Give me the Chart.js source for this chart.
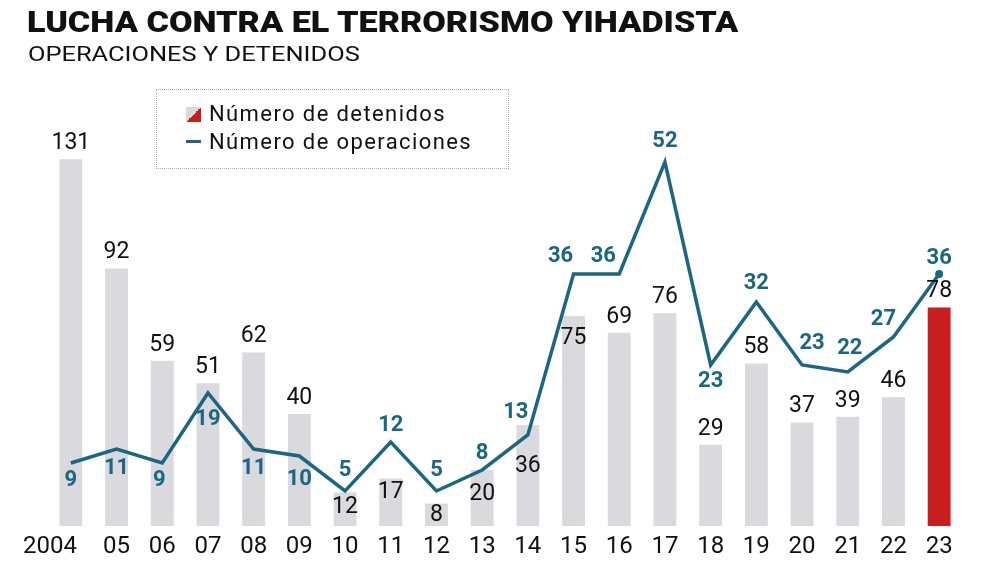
<!DOCTYPE html>
<html>
<head>
<meta charset="utf-8">
<script src="https://cdn.jsdelivr.net/npm/chart.js@4.4.1/dist/chart.umd.min.js"></script>
<style>
  html, body { margin: 0; padding: 0; background: #fff; }
  #wrap { position: relative; width: 1000px; height: 567px; overflow: hidden; font-family: Roboto, "Liberation Sans", sans-serif; }
  #titulo { position: absolute; left: 27px; top: 4px; font-size: 30px; font-weight: 900; color: #111; white-space: nowrap; transform: scaleX(1.14); transform-origin: left top; }
  #subtitulo { position: absolute; left: 28px; top: 42px; font-size: 21px; font-weight: 400; color: #111; white-space: nowrap; transform: scaleX(1.21); transform-origin: left top; }
  #leyenda { position: absolute; left: 156px; top: 89px; width: 351px; height: 78px; border: 1px dotted #aaa; font-size: 22px; color: #111; }
  .item { position: absolute; left: 29px; white-space: nowrap; letter-spacing: 1.4px; }
  .ico { display: inline-block; width: 15px; height: 15px; margin-right: 8px; vertical-align: -1px; }
  .ico.barra { background: linear-gradient(to bottom right, #d9d9de 50%, #c81e1e 50%); }
  .ico.linea { height: 3px; background: #1b6682; vertical-align: 6px; }
  canvas { position: absolute; left: 0; top: 0; }
</style>
</head>
<body>
<div id="wrap">
  <canvas id="grafico" width="1000" height="567"></canvas>
  <div id="titulo">LUCHA CONTRA EL TERRORISMO YIHADISTA</div>
  <div id="subtitulo">OPERACIONES Y DETENIDOS</div>
  <div id="leyenda">
    <div class="item" style="top:11px;"><span class="ico barra"></span>Número de detenidos</div>
    <div class="item" style="top:39px;"><span class="ico linea"></span>Número de operaciones</div>
  </div>
</div>
<script>
// datos
var anios = ['2004', '05', '06', '07', '08', '09', '10', '11', '12', '13', '14', '15', '16', '17', '18', '19', '20', '21', '22', '23'];
var detenidos = [131, 92, 59, 51, 62, 40, 12, 17, 8, 20, 36, 75, 69, 76, 29, 58, 37, 39, 46, 78];
var operaciones = [9, 11, 9, 19, 11, 10, 5, 12, 5, 8, 13, 36, 36, 52, 23, 32, 23, 22, 27, 36];

var gris = '#d9d9de';
var rojo = '#c81e1e';
var azul = '#1b6682';

// desplazamiento de las etiquetas (para que no choquen con la linea)
var dyBarra = [-16, -16, -16, -16, -16, -16, 15, 14, 12, 24, 41, 22, -16, -16, -16, -16, -16, -16, -16, -16];
var dxLinea = [0, 0, -3, 0, 0, 0, 0, 0, 0, 0, -12, -13, -16, 0, 0, 0, 10, 2, -10, 0];
var dyLinea = [17, 19, 17, 26, 19, 23, -21, -17, -21, -17, -23, -18, -18, -21, 16, -19, -22, -24, -18, -16];

var coloresBarra = detenidos.map(function (v, i) {
    return i == detenidos.length - 1 ? rojo : gris;
});
var radioPuntos = operaciones.map(function (v, i) {
    return i == operaciones.length - 1 ? 4 : 0;
});

var etiquetas = {
    id: 'etiquetas',
    afterDatasetsDraw: function (chart) {
        var ctx = chart.ctx;
        ctx.save();
        ctx.textAlign = 'center';
        ctx.textBaseline = 'middle';
        // barras
        var metaB = chart.getDatasetMeta(1);
        ctx.font = '400 23px Roboto, "Liberation Sans", sans-serif';
        ctx.fillStyle = '#111';
        metaB.data.forEach(function (el, i) {
            ctx.fillText(detenidos[i], el.x, el.y + dyBarra[i]);
        });
        // linea
        var metaL = chart.getDatasetMeta(0);
        ctx.font = '700 22px Roboto, "Liberation Sans", sans-serif';
        ctx.fillStyle = azul;
        metaL.data.forEach(function (el, i) {
            ctx.fillText(operaciones[i], el.x + dxLinea[i], el.y + dyLinea[i]);
        });
        ctx.restore();
    }
};

var grafico = new Chart(document.getElementById('grafico'), {
    data: {
        labels: anios,
        datasets: [
            {
                type: 'line',
                label: 'Número de operaciones',
                data: operaciones,
                yAxisID: 'y1',
                borderColor: azul,
                backgroundColor: azul,
                borderWidth: 3.5,
                tension: 0,
                pointRadius: radioPuntos,
                pointBorderWidth: 0,
                order: 0
            },
            {
                type: 'bar',
                label: 'Número de detenidos',
                data: detenidos,
                yAxisID: 'y',
                backgroundColor: coloresBarra,
                categoryPercentage: 1,
                barPercentage: 0.5,
                order: 1
            }
        ]
    },
    options: {
        responsive: false,
        animation: false,
        events: [],
        layout: { padding: { left: 48, right: 38, top: 106, bottom: 5 } },
        plugins: {
            legend: { display: false },
            tooltip: { enabled: false }
        },
        scales: {
            x: {
                grid: { display: false, drawTicks: false },
                border: { display: false },
                afterFit: function (escala) {
                    escala.height = 36;
                },
                ticks: {
                    padding: 7,
                    color: '#111',
                    font: { family: 'Roboto, "Liberation Sans", sans-serif', size: 24 },
                    maxRotation: 0,
                    autoSkip: false,
                    callback: function (v, i) {
                        return i == 0 ? anios[i] + '       ' : anios[i];
                    }
                }
            },
            y: { display: false, min: 0, max: 150 },
            y1: { display: false, min: 0, max: 60 }
        }
    },
    plugins: [etiquetas]
});
</script>
</body>
</html>
